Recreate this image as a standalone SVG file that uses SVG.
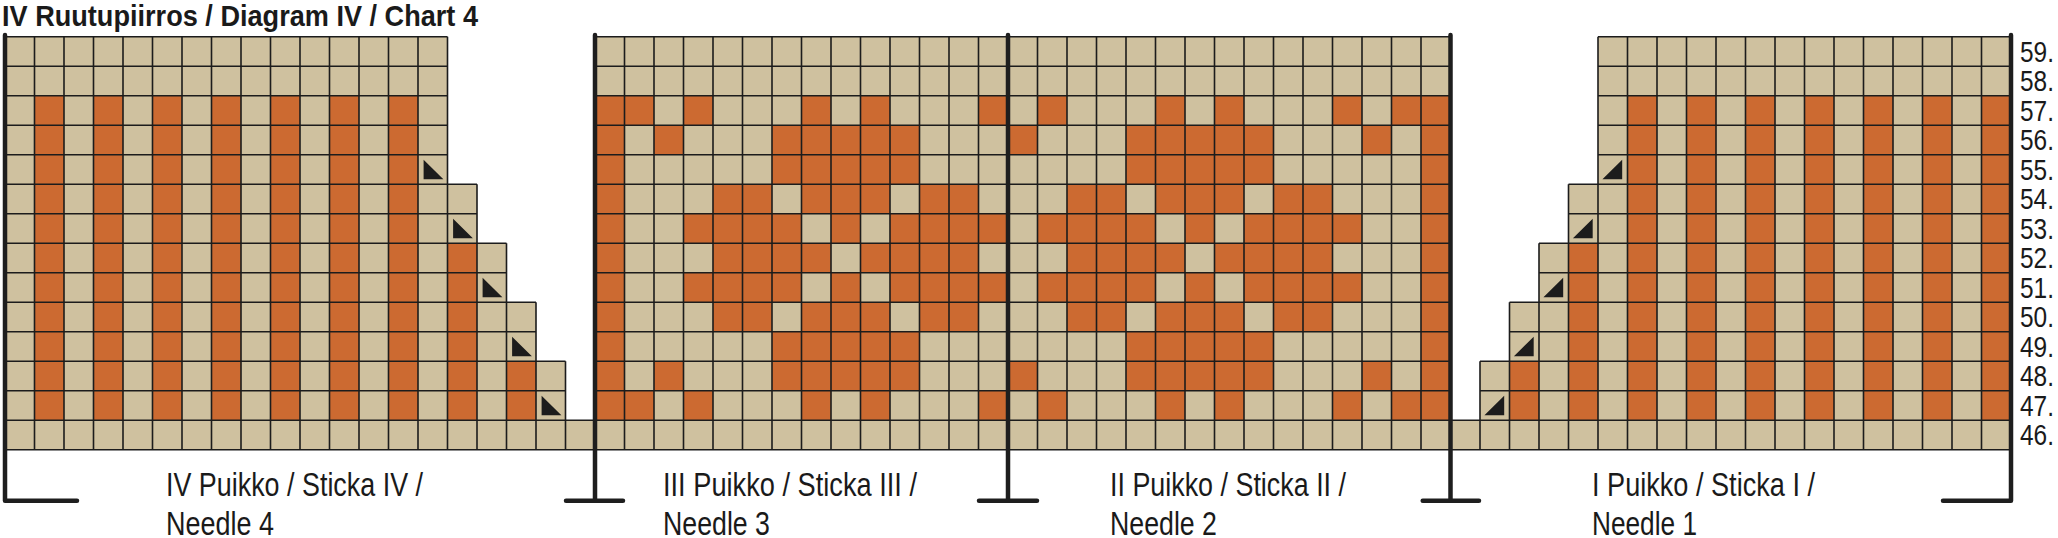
<svg xmlns="http://www.w3.org/2000/svg" xmlns:xlink="http://www.w3.org/1999/xlink" width="2058" height="538" viewBox="0 0 2058 538">
<style>
.bg{fill:#CFC19F}
.or{fill:#CC6A31}
.gl{fill:none;stroke:#1c1c1c;stroke-width:1.6}
.tri{fill:#1c1c1c}
.thick{fill:none;stroke:#1e1e1e;stroke-width:4.5;stroke-linecap:round;stroke-linejoin:round}
.lbl{font-family:"Liberation Sans Narrow","Liberation Sans",Arial,sans-serif;font-size:33px;fill:#1a1a1a}
.num{font-family:"Liberation Sans Narrow","Liberation Sans",Arial,sans-serif;font-size:29px;fill:#1a1a1a}
.title{font-family:"Liberation Sans Narrow","Liberation Sans",Arial,sans-serif;font-size:29.5px;font-weight:bold;fill:#1a1a1a}
</style>
<rect width="2058" height="538" fill="#ffffff"/>
<text class="title" x="2" y="25.5" textLength="476" lengthAdjust="spacingAndGlyphs">IV Ruutupiirros / Diagram IV / Chart 4</text>
<g id="chart" transform="translate(5,36.7) scale(29.5)">
  <g id="cells">
    <path class="bg" d="M0 0H15V5H16V7H17V9H18V11H19V13H0Z M20 0H49V13H20Z M54 0H68V13H50V11H51V9H52V7H53V5H54Z M0 13H68V14H0Z"/>
  </g>
  <g id="colour-cells" class="or">
    <rect x="1" y="2" width="1" height="11"/><rect x="3" y="2" width="1" height="11"/><rect x="5" y="2" width="1" height="11"/><rect x="7" y="2" width="1" height="11"/><rect x="9" y="2" width="1" height="11"/><rect x="11" y="2" width="1" height="11"/><rect x="13" y="2" width="1" height="11"/>
    <rect x="15" y="7" width="1" height="6"/><rect x="17" y="11" width="1" height="2"/>
    <rect x="55" y="2" width="1" height="11"/><rect x="57" y="2" width="1" height="11"/><rect x="59" y="2" width="1" height="11"/><rect x="61" y="2" width="1" height="11"/><rect x="63" y="2" width="1" height="11"/><rect x="65" y="2" width="1" height="11"/><rect x="67" y="2" width="1" height="11"/>
    <rect x="53" y="7" width="1" height="6"/><rect x="51" y="11" width="1" height="2"/>
    <rect x="20" y="2" width="1" height="11"/><rect x="48" y="2" width="1" height="11"/>
    <g id="rA"><rect x="21" y="2" width="1" height="1"/><rect x="23" y="2" width="1" height="1"/><rect x="27" y="2" width="1" height="1"/><rect x="29" y="2" width="1" height="1"/><rect x="33" y="2" width="1" height="1"/><rect x="35" y="2" width="1" height="1"/><rect x="39" y="2" width="1" height="1"/><rect x="41" y="2" width="1" height="1"/><rect x="45" y="2" width="1" height="1"/><rect x="47" y="2" width="1" height="1"/></g>
    <use xlink:href="#rA" href="#rA" y="10"/>
    <g id="rB"><rect x="22" y="3" width="1" height="1"/><rect x="26" y="3" width="5" height="1"/><rect x="34" y="3" width="1" height="1"/><rect x="38" y="3" width="5" height="1"/><rect x="46" y="3" width="1" height="1"/></g>
    <use xlink:href="#rB" href="#rB" y="8"/>
    <g id="rC"><rect x="26" y="4" width="5" height="1"/><rect x="38" y="4" width="5" height="1"/></g>
    <use xlink:href="#rC" href="#rC" y="6"/>
    <g id="rD"><rect x="24" y="5" width="2" height="1"/><rect x="27" y="5" width="3" height="1"/><rect x="31" y="5" width="2" height="1"/><rect x="36" y="5" width="2" height="1"/><rect x="39" y="5" width="3" height="1"/><rect x="43" y="5" width="2" height="1"/></g>
    <use xlink:href="#rD" href="#rD" y="4"/>
    <g id="rE"><rect x="23" y="6" width="4" height="1"/><rect x="28" y="6" width="1" height="1"/><rect x="30" y="6" width="4" height="1"/><rect x="35" y="6" width="4" height="1"/><rect x="40" y="6" width="1" height="1"/><rect x="42" y="6" width="4" height="1"/></g>
    <use xlink:href="#rE" href="#rE" y="2"/>
    <g id="rF"><rect x="24" y="7" width="4" height="1"/><rect x="29" y="7" width="4" height="1"/><rect x="36" y="7" width="4" height="1"/><rect x="41" y="7" width="4" height="1"/></g>
  </g>
  <g id="gridlines">
    <path class="gl" vector-effect="non-scaling-stroke" d="M0 0H15M20 0H49M54 0H68M0 1H15M20 1H49M54 1H68M0 2H15M20 2H49M54 2H68M0 3H15M20 3H49M54 3H68M0 4H15M20 4H49M54 4H68M0 5H16M20 5H49M53 5H68M0 6H16M20 6H49M53 6H68M0 7H17M20 7H49M52 7H68M0 8H17M20 8H49M52 8H68M0 9H18M20 9H49M51 9H68M0 10H18M20 10H49M51 10H68M0 11H19M20 11H49M50 11H68M0 12H19M20 12H49M50 12H68M0 13H68M0 14H68"/>
    <path class="gl" vector-effect="non-scaling-stroke" d="M0 0V14M1 0V14M2 0V14M3 0V14M4 0V14M5 0V14M6 0V14M7 0V14M8 0V14M9 0V14M10 0V14M11 0V14M12 0V14M13 0V14M14 0V14M15 0V14M16 5V14M17 7V14M18 9V14M19 11V14M20 0V14M21 0V14M22 0V14M23 0V14M24 0V14M25 0V14M26 0V14M27 0V14M28 0V14M29 0V14M30 0V14M31 0V14M32 0V14M33 0V14M34 0V14M35 0V14M36 0V14M37 0V14M38 0V14M39 0V14M40 0V14M41 0V14M42 0V14M43 0V14M44 0V14M45 0V14M46 0V14M47 0V14M48 0V14M49 0V14M50 11V14M51 9V14M52 7V14M53 5V14M54 0V14M55 0V14M56 0V14M57 0V14M58 0V14M59 0V14M60 0V14M61 0V14M62 0V14M63 0V14M64 0V14M65 0V14M66 0V14M67 0V14M68 0V14"/>
  </g>
  <g id="decrease-symbols" class="tri">
    <path d="M14.19 4.17V4.83H14.86Z M15.19 6.17V6.83H15.86Z M16.19 8.17V8.83H16.86Z M17.19 10.17V10.83H17.86Z M18.19 12.17V12.83H18.86Z"/>
    <path d="M54.82 4.17V4.83H54.15Z M53.82 6.17V6.83H53.15Z M52.82 8.17V8.83H52.15Z M51.82 10.17V10.83H51.15Z M50.82 12.17V12.83H50.15Z"/>
  </g>
</g>
<g id="connectors" class="thick">
  <path d="M5 35V500.7H77"/>
  <path d="M595 35V500.7M566 500.7H623"/>
  <path d="M1008 35V500.7M979 500.7H1037"/>
  <path d="M1450.5 35V500.7M1422.7 500.7H1479"/>
  <path d="M2011 35V500.7H1943"/>
</g>
<g id="row-numbers" class="num">
  <text x="2020" y="61.5" textLength="34" lengthAdjust="spacingAndGlyphs">59.</text>
  <text x="2020" y="91" textLength="34" lengthAdjust="spacingAndGlyphs">58.</text>
  <text x="2020" y="120.5" textLength="34" lengthAdjust="spacingAndGlyphs">57.</text>
  <text x="2020" y="150" textLength="34" lengthAdjust="spacingAndGlyphs">56.</text>
  <text x="2020" y="179.5" textLength="34" lengthAdjust="spacingAndGlyphs">55.</text>
  <text x="2020" y="209" textLength="34" lengthAdjust="spacingAndGlyphs">54.</text>
  <text x="2020" y="238.5" textLength="34" lengthAdjust="spacingAndGlyphs">53.</text>
  <text x="2020" y="268" textLength="34" lengthAdjust="spacingAndGlyphs">52.</text>
  <text x="2020" y="297.5" textLength="34" lengthAdjust="spacingAndGlyphs">51.</text>
  <text x="2020" y="327" textLength="34" lengthAdjust="spacingAndGlyphs">50.</text>
  <text x="2020" y="356.5" textLength="34" lengthAdjust="spacingAndGlyphs">49.</text>
  <text x="2020" y="386" textLength="34" lengthAdjust="spacingAndGlyphs">48.</text>
  <text x="2020" y="415.5" textLength="34" lengthAdjust="spacingAndGlyphs">47.</text>
  <text x="2020" y="445" textLength="34" lengthAdjust="spacingAndGlyphs">46.</text>
</g>
<g id="needle4-label" class="lbl">
  <text x="166" y="496" textLength="257" lengthAdjust="spacingAndGlyphs">IV Puikko / Sticka IV /</text>
  <text x="166" y="534.5" textLength="108" lengthAdjust="spacingAndGlyphs">Needle 4</text>
</g>
<g id="needle3-label" class="lbl">
  <text x="663" y="496" textLength="254" lengthAdjust="spacingAndGlyphs">III Puikko / Sticka III /</text>
  <text x="663" y="534.5" textLength="107" lengthAdjust="spacingAndGlyphs">Needle 3</text>
</g>
<g id="needle2-label" class="lbl">
  <text x="1110" y="496" textLength="236" lengthAdjust="spacingAndGlyphs">II Puikko / Sticka II /</text>
  <text x="1110" y="534.5" textLength="107" lengthAdjust="spacingAndGlyphs">Needle 2</text>
</g>
<g id="needle1-label" class="lbl">
  <text x="1592" y="496" textLength="223" lengthAdjust="spacingAndGlyphs">I Puikko / Sticka I /</text>
  <text x="1592" y="534.5" textLength="105" lengthAdjust="spacingAndGlyphs">Needle 1</text>
</g>
</svg>
